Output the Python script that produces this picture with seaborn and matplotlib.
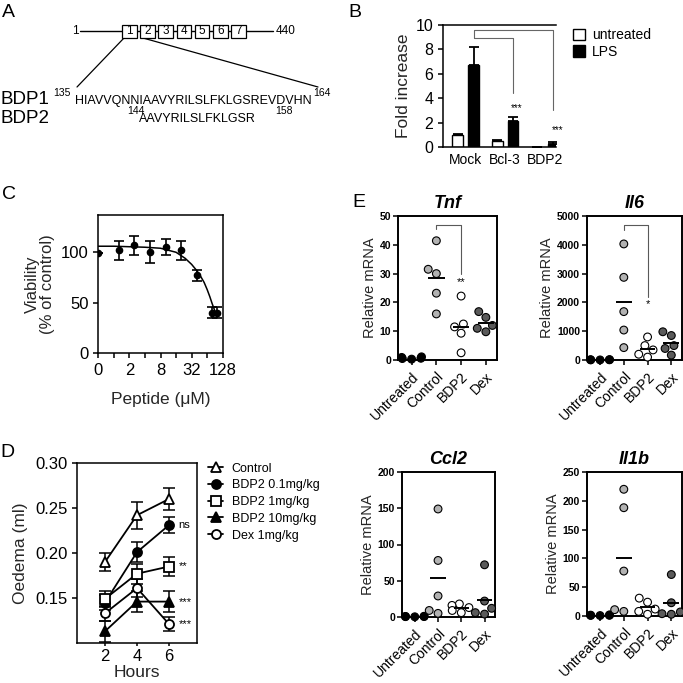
import numpy as np
import pandas as pd
import matplotlib
matplotlib.use("Agg")
import matplotlib.pyplot as plt
from matplotlib.patches import Rectangle
import seaborn as sns

# ---------------- data ----------------
# A: domain schematic
domain_ids = ["1", "2", "3", "4", "5", "6", "7"]
bdp1_seq = "HIAVVQNNIAAVYRILSLFKLGSREVDVHN"
bdp2_seq = "AAVYRILSLFKLGSR"

# B: reporter assay
b_groups = ["Mock", "Bcl-3", "BDP2"]
b_untreated = [0.97, 0.48, 0.03]
b_untreated_err = [0.1, 0.07, 0.01]
b_lps = [6.75, 2.15, 0.22]
b_lps_err = [1.45, 0.3, 0.23]

# C: viability
c_conc = [0, 1.25, 2.5, 5, 10, 20, 40, 80, 100]
c_viab = [99, 102, 107, 100, 105, 102, 77, 40, 40]
c_err = [0, 9.5, 9.5, 11, 8, 9.5, 5.5, 5.5, 5.5]
c_fit_conc = [0, 1, 2, 4, 8, 16, 24, 32, 40, 48, 56, 64, 72, 80, 90, 100]
c_fit_viab = [106, 106, 105.5, 105, 104, 100, 94, 88, 82, 76, 70, 63, 56, 49, 42, 35]

# D: oedema
d_hours = [2, 4, 6]
d_labels = ["Control", "BDP2 0.1mg/kg", "BDP2 1mg/kg", "BDP2 10mg/kg", "Dex 1mg/kg"]
d_control = [0.190, 0.242, 0.260]
d_control_err = [0.010, 0.015, 0.012]
d_bdp2_01 = [0.145, 0.201, 0.231]
d_bdp2_01_err = [0.008, 0.011, 0.009]
d_bdp2_1 = [0.149, 0.177, 0.185]
d_bdp2_1_err = [0.009, 0.011, 0.011]
d_bdp2_10 = [0.113, 0.146, 0.146]
d_bdp2_10_err = [0.012, 0.012, 0.012]
d_dex = [0.133, 0.161, 0.121]
d_dex_err = [0.008, 0.010, 0.008]
d_sig = ["ns", "**", "***", "***"]

# E: qPCR
e_groups = ["Untreated", "Control", "BDP2", "Dex"]
tnf_untreated = [0.3, 0.6, 0.9, 0.5, 1.1]
tnf_control = [41.4, 31.5, 30.0, 23.2, 16.0]
tnf_bdp2 = [22.2, 12.5, 11.5, 9.3, 2.5]
tnf_dex = [16.8, 14.8, 12.0, 11.0, 9.8]
il6_untreated = [5, 10, 8, 3, 12]
il6_control = [4030, 2870, 1680, 1040, 430]
il6_bdp2 = [800, 500, 350, 200, 100]
il6_dex = [980, 850, 500, 400, 170]
ccl2_untreated = [0.5, 0.8, 0.3, 1.0, 0.6]
ccl2_control = [149, 78, 29, 9, 5]
ccl2_bdp2 = [18, 16, 13, 9, 6]
ccl2_dex = [72, 22, 12, 6, 4]
il1b_untreated = [1.0, 1.5, 0.8, 2.0, 1.2]
il1b_control = [220, 188, 78, 8, 11]
il1b_bdp2 = [31, 24, 12, 8, 3]
il1b_dex = [72, 23, 7, 3, 4]

# ---------------- style ----------------
sns.set_style("ticks")
plt.rcParams["font.family"] = ["Liberation Sans", "DejaVu Sans"]
plt.rcParams.update({
    "axes.linewidth": 1.1,
    "xtick.major.width": 1.1, "ytick.major.width": 1.1,
    "xtick.minor.width": 1.1,
    "xtick.major.size": 3.5, "ytick.major.size": 3.5, "xtick.minor.size": 3.5,
    "xtick.color": "black", "ytick.color": "black",
    "axes.edgecolor": "black", "text.color": "black",
})

W = 683.0
fig = plt.figure(figsize=(6.83, 6.83), dpi=100)


def px_rect(l, t, r, b):
    return [l / W, 1 - b / W, (r - l) / W, (b - t) / W]


def letter(x, y, s):
    fig.text(x / W, 1 - y / W, s, fontsize=14, va="top", ha="left")


letter(2, 4, "A")
letter(348, 4, "B")
letter(2, 186, "C")
letter(0, 444, "D")
letter(352, 194, "E")

# ---------------- A ----------------
ax_a = fig.add_axes([0, 1 - 130 / W, 340 / W, 130 / W])
ax_a.set_xlim(0, 340)
ax_a.set_ylim(130, 0)
ax_a.axis("off")
ax_a.plot([80, 273], [31, 31], color="black", lw=1)
box_w, step = 14.5, 18.2
for i, d in enumerate(domain_ids):
    x0 = 122 + i * step
    ax_a.add_patch(Rectangle((x0, 24.5), box_w, 13, facecolor="white",
                             edgecolor="black", lw=0.9, zorder=3))
    ax_a.text(x0 + box_w / 2, 31.5, d, ha="center", va="center", fontsize=8.5, zorder=4)
ax_a.text(79, 31.5, "1", ha="right", va="center", fontsize=8.5)
ax_a.text(276, 31.5, "440", ha="left", va="center", fontsize=8.5)
ax_a.plot([124, 77], [38, 87], color="black", lw=0.9)
ax_a.plot([143, 318], [38, 87], color="black", lw=0.9)
ax_a.text(0, 100, "BDP1", fontsize=13.5, va="center")
ax_a.text(0, 118.5, "BDP2", fontsize=13.5, va="center")
ax_a.text(53, 92.5, "135", fontsize=7.5, va="center")
ax_a.text(75, 101, bdp1_seq, fontsize=9, va="center")
ax_a.text(313, 92.5, "164", fontsize=7.5, va="center")
ax_a.text(127, 111, "144", fontsize=7.5, va="center")
ax_a.text(139, 119.5, bdp2_seq, fontsize=9, va="center")
ax_a.text(275, 111, "158", fontsize=7.5, va="center")

# ---------------- B ----------------
ax_b = fig.add_axes(px_rect(443, 25, 556, 147))
b_df = pd.DataFrame({
    "group": b_groups * 2,
    "treatment": ["untreated"] * 3 + ["LPS"] * 3,
    "value": b_untreated + b_lps,
})
sns.barplot(data=b_df, x="group", y="value", hue="treatment",
            palette={"untreated": "white", "LPS": "black"}, edgecolor="black",
            linewidth=1, width=0.8, gap=0.34, errorbar=None, ax=ax_b)
for cont, errs in zip(ax_b.containers, [b_untreated_err, b_lps_err]):
    for bar, e in zip(cont, errs):
        xc = bar.get_x() + bar.get_width() / 2
        ax_b.errorbar(xc, bar.get_height(), yerr=[[0], [e]], color="black",
                      capsize=3.5, elinewidth=1.3, capthick=1.3)
lps_x = [b.get_x() + b.get_width() / 2 for b in ax_b.containers[1]]
ax_b.plot([lps_x[0], lps_x[0], lps_x[2], lps_x[2]], [8.9, 9.55, 9.55, 3.0], color="0.4", lw=0.8)
ax_b.plot([lps_x[0], lps_x[1], lps_x[1]], [8.9, 8.9, 4.4], color="0.4", lw=0.8)
ax_b.text(lps_x[1] + 0.08, 3.2, "***", fontsize=7, ha="center", va="center")
ax_b.text(lps_x[2] + 0.12, 1.35, "***", fontsize=7, ha="center", va="center")
ax_b.set_xlim(-0.57, 2.28)
ax_b.set_ylim(0, 10)
ax_b.set_yticks([0, 2, 4, 6, 8, 10])
ax_b.tick_params(axis="y", labelsize=11.5)
ax_b.tick_params(axis="x", labelsize=10, length=0, pad=4)
ax_b.set_xlabel("")
ax_b.set_ylabel("Fold increase", fontsize=12.5, labelpad=3)
ax_b.spines["right"].set_visible(False)
ax_b.legend(loc="upper left", bbox_to_anchor=(1.1, 1.02), frameon=False,
            fontsize=10, handlelength=0.9, handleheight=0.9, labelspacing=0.2,
            handletextpad=0.5, borderaxespad=0)

# ---------------- C ----------------
ax_c = fig.add_axes(px_rect(98.3, 215, 222.7, 353))
ax_c.errorbar(c_conc, c_viab, yerr=c_err, fmt="o", color="black", ms=4.5,
              capsize=3.5, elinewidth=1.2, capthick=1.2)
sns.lineplot(x=c_fit_conc, y=c_fit_viab, color="black", lw=1.1, ax=ax_c)
ax_c.set_xscale("function", functions=(lambda x: np.log2(np.clip(x, 0.5, None)),
                                       lambda y: 2.0 ** y))
ax_c.set_xlim(0, 128)
ax_c.set_xticks([0, 2, 8, 32, 128], ["0", "2", "8", "32", "128"])
ax_c.set_xticks([1, 4, 16, 64], minor=True)
ax_c.tick_params(axis="x", which="minor", labelbottom=False)
ax_c.set_ylim(0, 137)
ax_c.set_yticks([0, 50, 100])
ax_c.tick_params(labelsize=12)
ax_c.set_xlabel("Peptide (μM)", fontsize=12.5, labelpad=10)
ax_c.set_ylabel("Viability\n(% of control)", fontsize=12, labelpad=4, linespacing=1.0)

# ---------------- D ----------------
ax_d = fig.add_axes(px_rect(77, 463, 197, 643))
d_series = [d_control, d_bdp2_01, d_bdp2_1, d_bdp2_10, d_dex]
d_errs = [d_control_err, d_bdp2_01_err, d_bdp2_1_err, d_bdp2_10_err, d_dex_err]
d_markers = ["^", "o", "s", "^", "o"]
d_faces = ["white", "black", "white", "black", "white"]
for vals, errs in zip(d_series, d_errs):
    ax_d.errorbar(d_hours, vals, yerr=errs, fmt="none", ecolor="black",
                  capsize=4.5, elinewidth=1.1, capthick=1.1)
for vals, lab, mk, fc in zip(d_series, d_labels, d_markers, d_faces):
    sns.lineplot(x=d_hours, y=vals, color="black", lw=1.3, marker=mk, ms=6.5,
                 mfc=fc, mec="black", mew=1.3, label=lab, ax=ax_d)
for vals, s in zip(d_series[1:], d_sig):
    ax_d.text(6.6, vals[-1], s, fontsize=8, ha="left", va="center")
ax_d.set_xlim(0.25, 7.75)
ax_d.set_ylim(0.10, 0.30)
ax_d.set_xticks(d_hours)
ax_d.set_yticks([0.15, 0.20, 0.25, 0.30], ["0.15", "0.20", "0.25", "0.30"])
ax_d.tick_params(labelsize=12)
ax_d.tick_params(axis="x", length=2.5, pad=1.5)
ax_d.set_xlabel("Hours", fontsize=12.5, labelpad=1)
ax_d.set_ylabel("Oedema (ml)", fontsize=12.5, labelpad=5)
ax_d.legend(loc="upper left", bbox_to_anchor=(1.05, 1.03), frameon=False,
            fontsize=9, handlelength=1.2, labelspacing=0.38, handletextpad=0.7,
            borderaxespad=0)

# ---------------- E ----------------
e_palette = {"Untreated": "black", "Control": "#b2b2b2", "BDP2": "white", "Dex": "#5a5a5a"}


def dot_panel(rect, title, data, ymax, ystep, bracket=None):
    ax = fig.add_axes(px_rect(*rect))
    df = pd.DataFrame({
        "group": np.repeat(e_groups, [len(v) for v in data]),
        "value": np.concatenate(data),
    })
    sns.swarmplot(data=df, x="group", y="value", hue="group", order=e_groups,
                  palette=e_palette, size=5.6, edgecolor="black", linewidth=0.8,
                  legend=False, ax=ax)
    for c in ax.collections:
        c.set_clip_on(False)
        c.set_zorder(3)
    for i, vals in enumerate(data):
        if i > 0:
            ax.hlines(np.mean(vals), i - 0.33, i + 0.33, color="black", lw=1.4, zorder=4)
    if bracket is not None:
        top, low, end, star = bracket
        ax.plot([1, 1, 2, 2], [low, top, top, end], color="0.35", lw=0.8)
        ax.text(2, star, "**" if title == "Tnf" else "*", ha="center", va="center", fontsize=8)
    ax.set_xlim(-0.55, 3.45)
    ax.set_ylim(0, ymax)
    ax.set_yticks(np.arange(0, ymax + 1, ystep))
    for lab in ax.get_yticklabels():
        lab.set_fontweight("bold")
    ax.tick_params(axis="y", labelsize=7.5, pad=1.5)
    ax.tick_params(axis="x", labelsize=10)
    plt.setp(ax.get_xticklabels(), rotation=45, ha="right", rotation_mode="anchor")
    ax.set_xlabel("")
    ax.set_ylabel("Relative mRNA", fontsize=10.5, labelpad=2)
    ax.set_title(title, fontsize=13, fontweight="bold", fontstyle="italic", pad=6)
    for sp in ax.spines.values():
        sp.set_linewidth(1.4)
    return ax


dot_panel((398, 216, 497, 360), "Tnf",
          [tnf_untreated, tnf_control, tnf_bdp2, tnf_dex], 50, 10,
          bracket=(47, 45.5, 30, 27))
dot_panel((587, 216, 682, 360), "Il6",
          [il6_untreated, il6_control, il6_bdp2, il6_dex], 5000, 1000,
          bracket=(4700, 4500, 2200, 1950))
dot_panel((402, 472, 495, 617), "Ccl2",
          [ccl2_untreated, ccl2_control, ccl2_bdp2, ccl2_dex], 200, 50)
dot_panel((587, 472, 682, 616), "Il1b",
          [il1b_untreated, il1b_control, il1b_bdp2, il1b_dex], 250, 50)

fig.savefig("out.png", dpi=100)
